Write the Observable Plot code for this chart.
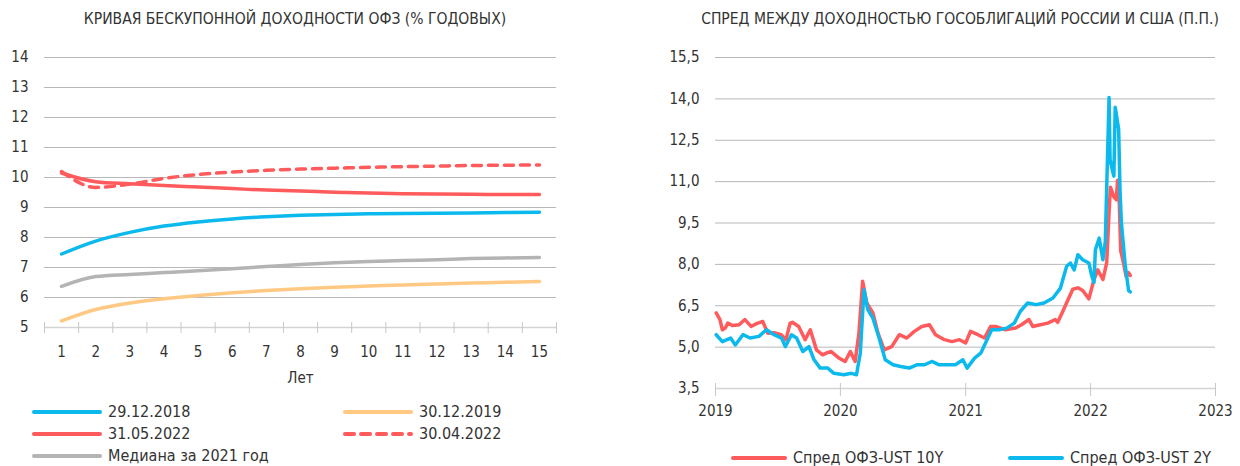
<!DOCTYPE html>
<html>
<head>
<meta charset="utf-8">
<script src="https://cdn.jsdelivr.net/npm/d3@7"></script>
<script src="https://cdn.jsdelivr.net/npm/@observablehq/plot@0.6"></script>
<style>
  html, body { margin: 0; padding: 0; background: #fff; }
  #root { position: relative; width: 1240px; height: 466px; overflow: hidden;
    font-family: "Liberation Sans Narrow", "DejaVu Sans Condensed", Roboto, sans-serif; color: #333; }
  .abs { position: absolute; white-space: nowrap; }
  .title { font-size: 15.5px; color: #333; }
  .leg { font-size: 16px; color: #333; display: flex; align-items: center; }
  .leg svg { margin-right: 6px; }
</style>
</head>
<body>
<div id="root"></div>
<script>
// ---------- Left chart data: zero-coupon OFZ yield curves ----------
const maturities = [1,2,3,4,5,6,7,8,9,10,11,12,13,14,15];
const curve20181229 = [7.45,7.88,8.17,8.38,8.52,8.62,8.69,8.74,8.77,8.79,8.80,8.81,8.82,8.83,8.84];
const curve20191230 = [5.22,5.60,5.82,5.96,6.07,6.16,6.23,6.29,6.34,6.38,6.42,6.45,6.48,6.51,6.53];
const curve20220531 = [10.15,9.86,9.79,9.73,9.68,9.63,9.58,9.55,9.51,9.48,9.46,9.45,9.44,9.43,9.43];
const curve20220430 = [10.20,9.67,9.78,9.97,10.10,10.18,10.24,10.28,10.31,10.34,10.36,10.38,10.40,10.41,10.42];
const curveMedian2021 = [6.37,6.70,6.77,6.83,6.89,6.96,7.03,7.10,7.16,7.20,7.23,7.26,7.30,7.32,7.33];
const leftSeriesNames = ["29.12.2018","30.12.2019","31.05.2022","30.04.2022","Медиана за 2021 год"];
const leftColors = ["#0cb9ec","#ffc983","#ff5a5c","#ff5a5c","#b4b4b4"];
const leftYTicks = [5,6,7,8,9,10,11,12,13,14];

// ---------- Right chart data: OFZ-UST spreads ----------
const dates10 = ["2019-01-03","2019-01-14","2019-01-21","2019-01-30","2019-02-06","2019-02-20","2019-03-11","2019-03-28","2019-04-15","2019-05-01","2019-05-19","2019-06-03","2019-06-21","2019-07-12","2019-07-26","2019-08-07","2019-08-14","2019-09-01","2019-09-20","2019-10-05","2019-10-23","2019-11-10","2019-11-24","2019-12-05","2019-12-28","2020-01-15","2020-01-30","2020-02-13","2020-02-24","2020-03-06","2020-03-18","2020-04-05","2020-04-20","2020-05-08","2020-05-30","2020-06-21","2020-07-13","2020-08-04","2020-08-26","2020-09-17","2020-10-05","2020-10-31","2020-11-22","2020-12-14","2021-01-01","2021-01-15","2021-02-06","2021-02-25","2021-03-15","2021-03-29","2021-04-27","2021-05-26","2021-06-13","2021-07-05","2021-07-16","2021-08-07","2021-08-29","2021-09-20","2021-09-27","2021-10-12","2021-10-27","2021-11-10","2021-11-25","2021-12-09","2021-12-27","2022-01-11","2022-01-22","2022-02-06","2022-02-17","2022-02-24","2022-02-28","2022-03-10","2022-03-17","2022-03-21","2022-03-26","2022-03-30","2022-04-08","2022-04-15","2022-04-22","2022-04-27"];
const spread10 = [6.24,6.00,5.63,5.70,5.87,5.78,5.81,6.00,5.75,5.85,5.93,5.50,5.52,5.45,5.27,5.87,5.90,5.75,5.27,5.63,4.90,4.72,4.80,4.84,4.60,4.48,4.84,4.48,5.50,7.39,6.60,6.24,5.50,4.90,5.02,5.45,5.33,5.57,5.75,5.81,5.45,5.27,5.20,5.27,5.15,5.57,5.45,5.33,5.75,5.75,5.63,5.69,5.81,6.00,5.75,5.81,5.87,6.00,5.90,6.30,6.72,7.10,7.15,7.05,6.75,7.45,7.80,7.45,8.05,9.90,10.80,10.45,10.35,11.05,10.20,8.50,8.00,7.55,7.70,7.60];
const dates2 = ["2019-01-03","2019-01-21","2019-02-14","2019-02-28","2019-03-22","2019-04-12","2019-05-08","2019-05-30","2019-06-21","2019-07-13","2019-07-24","2019-08-11","2019-08-26","2019-09-13","2019-10-01","2019-10-16","2019-11-03","2019-11-25","2019-12-13","2020-01-11","2020-02-02","2020-02-17","2020-02-28","2020-03-10","2020-03-21","2020-04-05","2020-04-23","2020-05-11","2020-06-03","2020-06-25","2020-07-20","2020-08-11","2020-09-03","2020-09-24","2020-10-16","2020-11-10","2020-12-02","2020-12-24","2021-01-05","2021-01-27","2021-02-14","2021-02-28","2021-03-18","2021-04-08","2021-05-01","2021-05-23","2021-06-10","2021-07-01","2021-07-26","2021-08-18","2021-09-13","2021-10-05","2021-10-23","2021-11-03","2021-11-14","2021-11-25","2021-12-09","2021-12-27","2022-01-04","2022-01-11","2022-01-15","2022-01-26","2022-02-06","2022-02-13","2022-02-24","2022-02-27","2022-03-06","2022-03-10","2022-03-14","2022-03-24","2022-03-28","2022-04-01","2022-04-12","2022-04-22","2022-04-27"];
const spread2 = [5.45,5.20,5.33,5.08,5.45,5.33,5.39,5.63,5.45,5.33,5.02,5.45,5.33,4.84,5.02,4.54,4.24,4.24,4.05,4.00,4.05,4.00,4.78,7.08,6.36,6.05,5.33,4.54,4.36,4.30,4.24,4.36,4.36,4.48,4.36,4.36,4.36,4.54,4.24,4.60,4.78,5.15,5.63,5.63,5.69,5.87,6.30,6.60,6.54,6.60,6.78,7.14,7.93,8.05,7.80,8.35,8.17,8.05,7.60,7.35,8.53,8.95,8.17,8.83,14.05,11.80,11.40,11.20,13.70,12.90,10.70,9.50,8.00,7.05,7.00];
const rightSeriesNames = ["Спред ОФЗ-UST 10Y","Спред ОФЗ-UST 2Y"];
const rightColors = ["#ff5a5c","#0cb9ec"];
const rightYTicks = [3.5,5.0,6.5,8.0,9.5,11.0,12.5,14.0,15.5];
const yearTicks = ["2019","2020","2021","2022","2023"];

const leftTitle = "КРИВАЯ БЕСКУПОННОЙ ДОХОДНОСТИ ОФЗ (% ГОДОВЫХ)";
const rightTitle = "СПРЕД МЕЖДУ ДОХОДНОСТЬЮ ГОСОБЛИГАЦИЙ РОССИИ И США (П.П.)";
const xLabelLeft = "Лет";

// ---------- build ----------
const root = document.getElementById("root");
const FONT = '"Liberation Sans Narrow", "DejaVu Sans Condensed", Roboto, sans-serif';
const TEXT = "#333";
const GRID = "#b8b8b8";

function place(el, left, top) {
  el.style.position = "absolute"; el.style.left = left + "px"; el.style.top = top + "px";
  root.appendChild(el); return el;
}
function div(cls, text) { const d = document.createElement("div"); d.className = cls; d.textContent = text; return d; }

// Left chart
const leftRows = [];
const leftCurves = [curve20181229, curve20191230, curve20220531, curve20220430, curveMedian2021];
leftCurves.forEach((c, i) => c.forEach((v, j) => leftRows.push({series: leftSeriesNames[i], m: maturities[j], v})));
const boundaries = d3.range(0.5, 15.6, 1);

const leftPlot = Plot.plot({
  width: 600, height: 350,
  marginLeft: 44, marginRight: 44, marginTop: 17, marginBottom: 63,
  style: {fontFamily: FONT, fontSize: "15px", color: TEXT, background: "transparent"},
  x: {domain: [0.5, 15.5]},
  y: {domain: [5, 14]},
  marks: [
    Plot.ruleY(leftYTicks.filter(t => t > 5), {stroke: GRID, strokeWidth: 1}),
    Plot.ruleY([5], {stroke: "#d4d4d4", strokeWidth: 1.5}),
    Plot.axisY(leftYTicks, {tickSize: 0, tickPadding: 16, fontSize: 15, label: null}),
    Plot.axisX(boundaries, {tickSize: 11, dy: -5, tickFormat: () => "", stroke: "#c8c8c8", label: null}),
    Plot.axisX(maturities, {tickSize: 0, tickPadding: 19, fontSize: 15, tickFormat: d => String(d), label: xLabelLeft, labelAnchor: "center", labelArrow: "none", labelOffset: 55}),
    ...leftSeriesNames.map((name, i) => Plot.line(leftRows.filter(r => r.series === name), {
      x: "m", y: "v", stroke: leftColors[i], strokeWidth: 3.5, curve: "monotone-x",
      strokeDasharray: name === "30.04.2022" ? "9,7" : null, strokeLinecap: "round"
    }))
  ]
});
place(leftPlot, 0, 40);

// Right chart
const rightRows = [];
dates10.forEach((d, i) => rightRows.push({series: rightSeriesNames[0], date: new Date(d), v: spread10[i]}));
dates2.forEach((d, i) => rightRows.push({series: rightSeriesNames[1], date: new Date(d), v: spread2[i]}));
const yearDates = yearTicks.map(y => new Date(y + "-01-01"));
const commaFmt = v => v.toFixed(1).replace(".", ",");

const rightPlot = Plot.plot({
  width: 600, height: 390,
  marginLeft: 75, marginRight: 25, marginTop: 17, marginBottom: 42,
  style: {fontFamily: FONT, fontSize: "15px", color: TEXT, background: "transparent"},
  x: {type: "utc", domain: [yearDates[0], yearDates[yearDates.length - 1]]},
  y: {domain: [3.5, 15.5]},
  marks: [
    Plot.ruleY(rightYTicks.filter(t => t > 3.5), {stroke: GRID, strokeWidth: 1}),
    Plot.ruleY([3.5], {stroke: "#d4d4d4", strokeWidth: 1.5}),
    Plot.axisY(rightYTicks, {tickSize: 0, tickPadding: 16, fontSize: 15, tickFormat: commaFmt, label: null}),
    Plot.axisX(yearDates, {tickSize: 13, dy: -5, tickFormat: () => "", stroke: "#c8c8c8", label: null}),
    Plot.axisX(yearDates, {tickSize: 0, tickPadding: 17, fontSize: 15, tickFormat: d => String(d.getUTCFullYear()), label: null}),
    ...rightSeriesNames.map((name, i) => Plot.line(rightRows.filter(r => r.series === name), {
      x: "date", y: "v", stroke: rightColors[i], strokeWidth: 3.5, strokeLinejoin: "round"
    }))
  ]
});
place(rightPlot, 640, 40);

// Titles
const t1 = place(div("abs title", leftTitle), 0, 10); t1.style.width = "590px"; t1.style.textAlign = "center";
const t2 = place(div("abs title", rightTitle), 680, 10); t2.style.width = "560px"; t2.style.textAlign = "center";

// Legends
function legendItem(name, color, dashed, sampleW) {
  const d = document.createElement("div"); d.className = "abs leg";
  const svgNS = "http://www.w3.org/2000/svg";
  const s = document.createElementNS(svgNS, "svg"); s.setAttribute("width", sampleW); s.setAttribute("height", 8);
  const l = document.createElementNS(svgNS, "line");
  l.setAttribute("x1", 2); l.setAttribute("x2", sampleW - 2); l.setAttribute("y1", 4); l.setAttribute("y2", 4);
  l.setAttribute("stroke", color); l.setAttribute("stroke-width", 4); l.setAttribute("stroke-linecap", "round");
  if (dashed) l.setAttribute("stroke-dasharray", "9,7");
  s.appendChild(l); d.appendChild(s);
  const t = document.createElement("span"); t.textContent = name; d.appendChild(t);
  return d;
}
const leftLegendPos = [[32, 402], [343, 402], [32, 424], [343, 424], [32, 446]];
leftSeriesNames.forEach((name, k) => place(legendItem(name, leftColors[k], name === "30.04.2022", 70), leftLegendPos[k][0], leftLegendPos[k][1]));
place(legendItem(rightSeriesNames[0], rightColors[0], false, 56), 731, 448);
place(legendItem(rightSeriesNames[1], rightColors[1], false, 56), 1008, 448);
</script>
</body>
</html>
